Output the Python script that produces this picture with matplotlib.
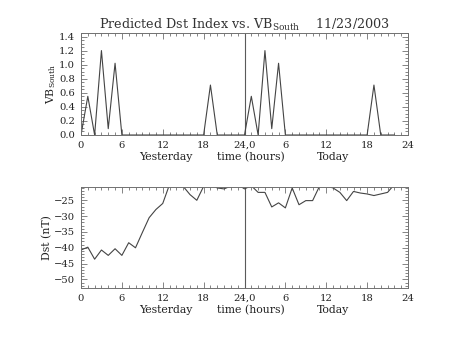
import matplotlib
matplotlib.use("Agg")
import matplotlib.pyplot as plt
from matplotlib.ticker import MultipleLocator, FixedLocator
import numpy as np

# ---- data ----
hours = list(range(0, 47))
vb_south = [0, 0.55, 0, 1.2, 0.09, 1.02, 0, 0, 0, 0, 0, 0, 0, 0, 0, 0, 0, 0, 0, 0.71, 0, 0, 0, 0,
            0, 0.55, 0, 1.2, 0.09, 1.02, 0, 0, 0, 0, 0, 0, 0, 0, 0, 0, 0, 0, 0, 0.71, 0, 0, 0]
dst = [-40.7, -39.8, -43.6, -40.7, -42.4, -40.3, -42.4, -38.4, -40.0, -35.2, -30.5, -27.9,
       -26.0, -20.0, -20.0, -20.6, -23.2, -25.0, -20.6, -20.0, -21.1, -21.4, -20.5, -20.0,
       -21.4, -20.4, -22.5, -22.5, -27.1, -25.8, -27.4, -21.1, -26.4, -25.1, -25.1, -20.6,
       -20.5, -21.1, -22.5, -25.1, -22.2, -22.7, -23.0, -23.5, -23.0, -22.5, -20.0]
xtick_pos = [0, 6, 12, 18, 24, 30, 36, 42, 48]
xtick_labels = ["0", "6", "12", "18", "24,0", "6", "12", "18", "24"]
vb_ticks = [0.0, 0.2, 0.4, 0.6, 0.8, 1.0, 1.2, 1.4]
dst_ticks = [-50, -45, -40, -35, -30, -25]
title = "Predicted Dst Index vs. VB$_{\\mathrm{South}}$    11/23/2003"

plt.rcParams['font.family'] = ['DejaVu Serif']
plt.rcParams['mathtext.fontset'] = 'dejavuserif'

W, H = 453, 340
fig = plt.figure(figsize=(W / 100, H / 100), dpi=100)
fig.patch.set_facecolor('white')

def px_axes(l, t, r, b):
    return fig.add_axes([l / W, 1 - b / H, (r - l) / W, (b - t) / H])

ax1 = px_axes(81, 33, 408, 135)
ax2 = px_axes(81, 187, 408, 288)

line_c = '#444444'
spine_c = '#707070'
fs = 7.2

for ax in (ax1, ax2):
    ax.set_xlim(0, 48)
    ax.xaxis.set_major_locator(FixedLocator(xtick_pos))
    ax.set_xticklabels(xtick_labels)
    ax.xaxis.set_minor_locator(MultipleLocator(1))
    ax.tick_params(which='both', direction='in', top=True, right=True,
                   color=spine_c, width=0.6, labelsize=fs, labelcolor='#222222')
    ax.tick_params(which='major', length=4.5, pad=4.3)
    ax.tick_params(which='minor', length=2.2)
    for s in ax.spines.values():
        s.set_color(spine_c)
        s.set_linewidth(0.7)
    ax.axvline(24, color='#5a5a5a', lw=0.8)
    for x, txt in [(12.5, "Yesterday"), (25.0, "time (hours)"), (37.0, "Today")]:
        ax.annotate(txt, xy=(x, 0), xycoords=('data', 'axes fraction'),
                    xytext=(0, -22.3 * 0.72), textcoords='offset points',
                    ha='center', va='center', fontsize=fs + 0.6, color='#222222')

ax1.plot(hours, vb_south, color=line_c, lw=0.8)
ax1.set_ylim(0, 1.45)
ax1.yaxis.set_major_locator(FixedLocator(vb_ticks))
ax1.set_yticklabels([f"{v:.1f}" for v in vb_ticks])
ax1.yaxis.set_minor_locator(MultipleLocator(0.05))
ax1.set_ylabel("VB$_{\\mathrm{South}}$", fontsize=fs + 0.6, color='#222222', labelpad=1)
ax1.set_title(title, fontsize=9.2, color='#333333', pad=3)

ax2.plot(hours, dst, color=line_c, lw=0.8)
ax2.set_ylim(-52.7, -20.8)
ax2.yaxis.set_major_locator(FixedLocator(dst_ticks))
ax2.set_yticklabels([f"\u2212{abs(v)}" for v in dst_ticks])
ax2.yaxis.set_minor_locator(MultipleLocator(1))
ax2.set_ylabel("Dst (nT)", fontsize=fs + 0.6, color='#222222', labelpad=1)

fig.savefig("out.png", dpi=100, facecolor='white')
